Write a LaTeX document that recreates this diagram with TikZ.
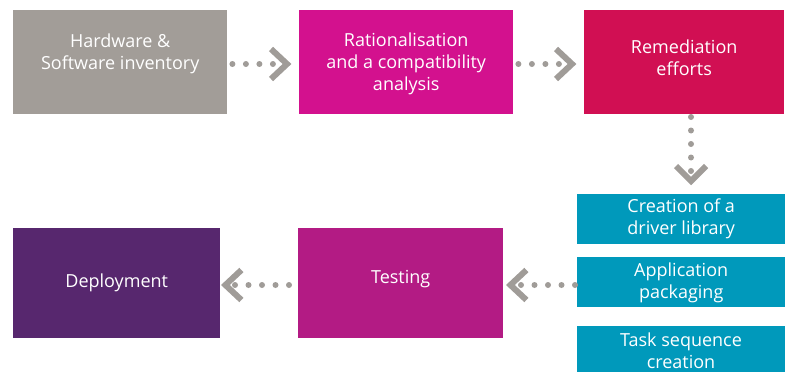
\documentclass[tikz,border=0pt]{standalone}
\usepackage{fontspec}
\setmainfont{Open Sans}
\definecolor{cgray}{HTML}{A29D98}
\definecolor{cpink}{HTML}{D3118E}
\definecolor{ccrim}{HTML}{D10F53}
\definecolor{cteal}{HTML}{0099BB}
\definecolor{cmag}{HTML}{B31B84}
\definecolor{cpurp}{HTML}{57276E}
\definecolor{carrow}{HTML}{A09C98}
\begin{document}
\begin{tikzpicture}[x=1pt,y=-1pt,
  box/.style={draw=none,inner sep=0pt,anchor=north west},
  txt/.style={text=white,align=center,font=\fontsize{18}{22}\selectfont,inner sep=0pt},
  dots/.style={draw=carrow,line width=6pt,line cap=round,dash pattern=on 0pt off 13.5pt},
  chev/.style={draw=carrow,line width=6pt,line cap=butt,line join=miter}]
\useasboundingbox (0,0) rectangle (785,372);
% boxes
\node[box,fill=cgray,minimum width=214pt,minimum height=104pt] (hw) at (13,10) {};
\node[box,fill=cpink,minimum width=214pt,minimum height=104pt] (rat) at (299,10) {};
\node[box,fill=ccrim,minimum width=200pt,minimum height=104pt] (rem) at (584,10) {};
\node[box,fill=cteal,minimum width=208pt,minimum height=50pt] (drv) at (577,194) {};
\node[box,fill=cteal,minimum width=208pt,minimum height=50pt] (app) at (577,257) {};
\node[box,fill=cteal,minimum width=208pt,minimum height=50pt] (tsk) at (577,326) {};
\node[box,fill=cmag,minimum width=205pt,minimum height=110pt] (tst) at (298,228) {};
\node[box,fill=cpurp,minimum width=207pt,minimum height=110pt] (dep) at (13,228) {};
% texts
\node[txt] at ([yshift=8]hw.center) {Hardware \&\\Software inventory};
\node[txt] at ([yshift=-2]rat.center) {Rationalisation\\and a compatibility\\analysis};
\node[txt] at ([yshift=4]rem.center) {Remediation\\efforts};
\node[txt] at ([yshift=0]drv.center) {Creation of a\\driver library};
\node[txt] at ([yshift=-1]app.center) {Application\\packaging};
\node[txt] at (681,351) {Task sequence\\creation};
\node[txt] at ([yshift=4]tst.center) {Testing};
\node[txt] at (dep.center) {Deployment};
% arrow hw -> rat
\coordinate (a1s) at ([xshift=5]hw.east |- 0,64);
\coordinate (a1e) at ([xshift=-12]rat.west |- 0,64);
\draw[dots] (a1s) -- (a1e);
\draw[chev] ([xshift=-16,yshift=-15]a1e) -- (a1e) -- ([xshift=-16,yshift=15]a1e);
% arrow rat -> rem
\coordinate (a2s) at ([xshift=5]rat.east |- 0,64);
\coordinate (a2e) at ([xshift=-12]rem.west |- 0,64);
\draw[dots] (a2s) -- (a2e);
\draw[chev] ([xshift=-16,yshift=-15]a2e) -- (a2e) -- ([xshift=-16,yshift=15]a2e);
% arrow rem -> drv
\coordinate (a3s) at (691,117);
\coordinate (a3e) at (691,181);
\draw[dots] (a3s) -- (a3e);
\draw[chev] ([xshift=-15,yshift=15]a3e) -- (a3e) -- ([xshift=15,yshift=15]a3e);
% arrow app -> tst
\coordinate (a4s) at ([xshift=-2]app.west |- 0,285);
\coordinate (a4e) at ([xshift=7]tst.east |- 0,285);
\draw[dots] (a4s) -- (a4e);
\draw[chev] ([xshift=16,yshift=-15]a4e) -- (a4e) -- ([xshift=16,yshift=15]a4e);
% arrow tst -> dep
\coordinate (a5s) at ([xshift=-9]tst.west |- 0,285);
\coordinate (a5e) at ([xshift=5]dep.east |- 0,285);
\draw[dots] (a5s) -- (a5e);
\draw[chev] ([xshift=16,yshift=-15]a5e) -- (a5e) -- ([xshift=16,yshift=15]a5e);
\end{tikzpicture}
\end{document}
